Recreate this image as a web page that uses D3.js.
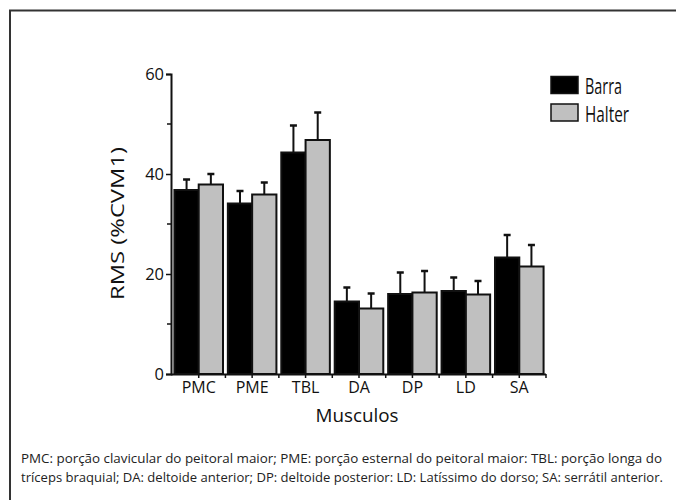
<!DOCTYPE html>
<html>
<head>
<meta charset="utf-8">
<script src="https://cdn.jsdelivr.net/npm/d3@7"></script>
<style>
  body { margin: 0; background: #fff; }
  svg { display: block; font-family: 'Open Sans', 'Noto Sans', sans-serif; }
</style>
</head>
<body>
<svg id="canvas"></svg>
<script>
const musculos = ['PMC', 'PME', 'TBL', 'DA', 'DP', 'LD', 'SA']
const series = ['Barra', 'Halter']
const barraValues = [36.8, 34.1, 44.3, 14.5, 16.0, 16.6, 23.3]
const barraErrors = [2.1, 2.5, 5.4, 2.8, 4.3, 2.7, 4.5]
const halterValues = [37.9, 35.9, 46.8, 13.1, 16.3, 15.9, 21.5]
const halterErrors = [2.1, 2.4, 5.5, 3.0, 4.3, 2.7, 4.3]
const yTicks = [0, 20, 40, 60]
const yMinorTicks = [10, 30, 50]
const caption = [
    'PMC: porção clavicular do peitoral maior; PME: porção esternal do peitoral maior: TBL: porção longa do',
    'tríceps braquial; DA: deltoide anterior; DP: deltoide posterior: LD: Latíssimo do dorso; SA: serrátil anterior.'
]

const colors = {Barra: '#000000', Halter: '#c0c0c0'}
const width = 676
const height = 500

const canvas = d3.select('#canvas')
    .attr('width', width)
    .attr('height', height)

// frame (top + left)
canvas.append('path')
    .attr('d', `M10,${height} V10.5 H${width}`)
    .attr('fill', 'none')
    .attr('stroke', '#333')
    .attr('stroke-width', 2)

const x = d3.scaleBand()
    .domain(musculos)
    .range([172, 546])
const xInner = d3.scaleBand()
    .domain(series)
    .range([0, x.bandwidth()])
    .paddingOuter(0.1)
    .paddingInner(0)
const y = d3.scaleLinear()
    .domain([0, 60])
    .range([374, 74])

const data = musculos.map((m, i) => ({
    musculo: m,
    values: [
        {serie: 'Barra', value: barraValues[i], err: barraErrors[i]},
        {serie: 'Halter', value: halterValues[i], err: halterErrors[i]}
    ]
}))

const groups = canvas.selectAll('g.group')
    .data(data)
    .enter()
    .append('g')
    .attr('class', 'group')
    .attr('transform', d => `translate(${x(d.musculo)},0)`)

// error bars first so the bar outline sits on top
groups.selectAll('g.err')
    .data(d => d.values)
    .enter()
    .append('g')
    .attr('class', 'err')
    .each(function(d) {
        const g = d3.select(this)
        const cx = xInner(d.serie) + xInner.bandwidth() / 2
        g.append('line')
            .attr('x1', cx).attr('x2', cx)
            .attr('y1', y(d.value)).attr('y2', y(d.value + d.err))
            .attr('stroke', '#111').attr('stroke-width', 2)
        g.append('line')
            .attr('x1', cx - 3.5).attr('x2', cx + 3.5)
            .attr('y1', y(d.value + d.err)).attr('y2', y(d.value + d.err))
            .attr('stroke', '#111').attr('stroke-width', 2.5)
    })

groups.selectAll('rect')
    .data(d => d.values)
    .enter()
    .append('rect')
    .attr('x', d => xInner(d.serie))
    .attr('y', d => y(d.value))
    .attr('width', xInner.bandwidth())
    .attr('height', d => y(0) - y(d.value))
    .attr('fill', d => colors[d.serie])
    .attr('stroke', '#111')
    .attr('stroke-width', 2)

// y axis
const yAxis = canvas.append('g')
    .attr('transform', 'translate(171,0)')
    .call(d3.axisLeft(y).tickValues(yTicks).tickSize(5).tickPadding(2))
yAxis.select('.domain').attr('stroke', '#111').attr('stroke-width', 2)
yAxis.selectAll('.tick line').attr('stroke', '#111').attr('stroke-width', 1.5)
yAxis.selectAll('.tick text')
    .attr('font-size', 16.5)
    .attr('font-family', "'Open Sans', sans-serif")
    .attr('fill', '#111')
yAxis.selectAll('.minor')
    .data(yMinorTicks)
    .enter()
    .append('line')
    .attr('x1', -4).attr('x2', 0)
    .attr('y1', d => y(d)).attr('y2', d => y(d))
    .attr('stroke', '#111').attr('stroke-width', 1.5)

// x axis
const xAxis = canvas.append('g')
    .attr('transform', `translate(0,${y(0)})`)
    .call(d3.axisBottom(x).tickSize(4).tickPadding(4).tickSizeOuter(0))
xAxis.select('.domain')
    .attr('d', `M171,0.5H${x.range()[1]}`)
    .attr('stroke', '#111').attr('stroke-width', 2)
xAxis.selectAll('.tick line').attr('stroke', '#111').attr('stroke-width', 1.5)
xAxis.selectAll('.tick text')
    .attr('font-size', 16)
    .attr('font-family', "'Open Sans', sans-serif")
    .attr('fill', '#111')
xAxis.selectAll('.sep')
    .data(musculos)
    .enter()
    .append('line')
    .attr('x1', (d, i) => x.range()[0] + x.step() * (i + 1))
    .attr('x2', (d, i) => x.range()[0] + x.step() * (i + 1))
    .attr('y1', 0).attr('y2', 4)
    .attr('stroke', '#111').attr('stroke-width', 1.5)

// axis titles
canvas.append('text')
    .attr('x', 357).attr('y', 421.5)
    .attr('text-anchor', 'middle')
    .attr('font-size', 17.5)
    .attr('fill', '#111')
    .attr('textLength', 83)
    .attr('lengthAdjust', 'spacingAndGlyphs')
    .text('Musculos')
canvas.append('text')
    .attr('transform', 'translate(123.5,223.5) rotate(-90)')
    .attr('text-anchor', 'middle')
    .attr('font-size', 18.5)
    .attr('fill', '#111')
    .attr('textLength', 153)
    .attr('lengthAdjust', 'spacingAndGlyphs')
    .text('RMS (%CVM1)')

// legend
const legendWidths = [37, 44]
const legend = canvas.selectAll('g.legend')
    .data(series)
    .enter()
    .append('g')
    .attr('class', 'legend')
    .attr('transform', (d, i) => `translate(551,${76.5 + i * 27.5})`)
legend.append('rect')
    .attr('width', 27).attr('height', 17)
    .attr('fill', d => colors[d])
    .attr('stroke', '#111').attr('stroke-width', 1.5)
legend.append('text')
    .attr('x', 34).attr('y', 17.5)
    .attr('font-size', 21)
    .attr('fill', '#111')
    .attr('textLength', (d, i) => legendWidths[i])
    .attr('lengthAdjust', 'spacingAndGlyphs')
    .text(d => d)

// caption
canvas.selectAll('text.caption')
    .data(caption)
    .enter()
    .append('text')
    .attr('class', 'caption')
    .attr('x', 21)
    .attr('y', (d, i) => 463 + i * 19)
    .attr('font-size', 13)
    .attr('fill', '#222')
    .attr('textLength', (d, i) => 641 + i)
    .attr('lengthAdjust', 'spacingAndGlyphs')
    .text(d => d)
</script>
</body>
</html>
